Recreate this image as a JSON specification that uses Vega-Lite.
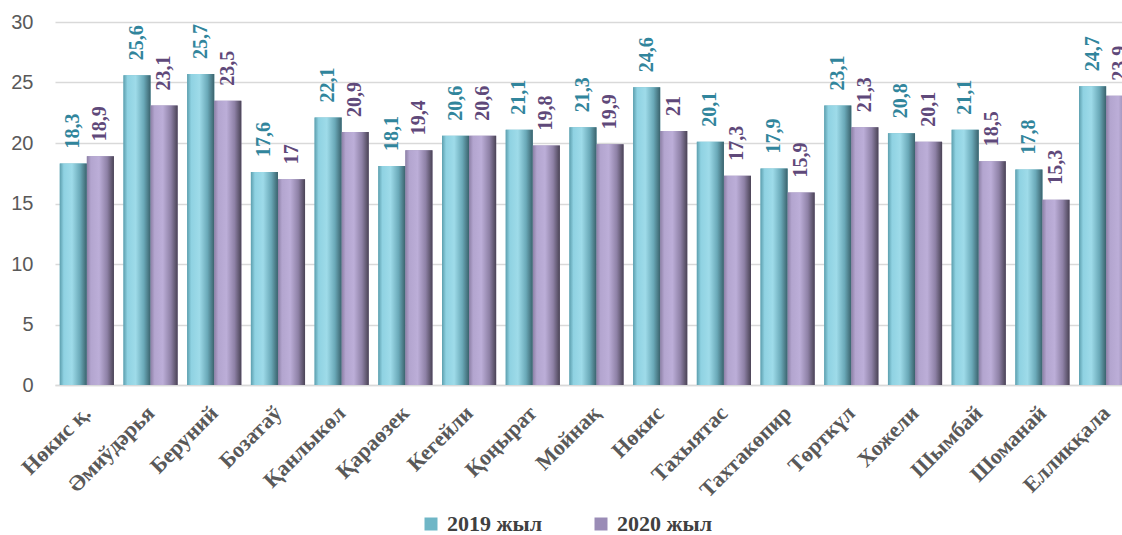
{
  "$schema": "https://vega.github.io/schema/vega-lite/v6.json",
  "width": 1067,
  "height": 363,
  "autosize": {"type": "none"},
  "padding": {"left": 55, "top": 22, "right": 0, "bottom": 150},
  "background": "white",
  "data": {
    "values": [
      {"region": "Нөкис қ.", "year": "2019 жыл", "value": 18.3, "label": "18,3"},
      {"region": "Нөкис қ.", "year": "2020 жыл", "value": 18.9, "label": "18,9"},
      {"region": "Әмиўдәрья", "year": "2019 жыл", "value": 25.6, "label": "25,6"},
      {"region": "Әмиўдәрья", "year": "2020 жыл", "value": 23.1, "label": "23,1"},
      {"region": "Беруний", "year": "2019 жыл", "value": 25.7, "label": "25,7"},
      {"region": "Беруний", "year": "2020 жыл", "value": 23.5, "label": "23,5"},
      {"region": "Бозатаў", "year": "2019 жыл", "value": 17.6, "label": "17,6"},
      {"region": "Бозатаў", "year": "2020 жыл", "value": 17, "label": "17"},
      {"region": "Қанлыкөл", "year": "2019 жыл", "value": 22.1, "label": "22,1"},
      {"region": "Қанлыкөл", "year": "2020 жыл", "value": 20.9, "label": "20,9"},
      {"region": "Қараөзек", "year": "2019 жыл", "value": 18.1, "label": "18,1"},
      {"region": "Қараөзек", "year": "2020 жыл", "value": 19.4, "label": "19,4"},
      {"region": "Кегейли", "year": "2019 жыл", "value": 20.6, "label": "20,6"},
      {"region": "Кегейли", "year": "2020 жыл", "value": 20.6, "label": "20,6"},
      {"region": "Қоңырат", "year": "2019 жыл", "value": 21.1, "label": "21,1"},
      {"region": "Қоңырат", "year": "2020 жыл", "value": 19.8, "label": "19,8"},
      {"region": "Мойнақ", "year": "2019 жыл", "value": 21.3, "label": "21,3"},
      {"region": "Мойнақ", "year": "2020 жыл", "value": 19.9, "label": "19,9"},
      {"region": "Нөкис", "year": "2019 жыл", "value": 24.6, "label": "24,6"},
      {"region": "Нөкис", "year": "2020 жыл", "value": 21, "label": "21"},
      {"region": "Тахыятас", "year": "2019 жыл", "value": 20.1, "label": "20,1"},
      {"region": "Тахыятас", "year": "2020 жыл", "value": 17.3, "label": "17,3"},
      {"region": "Тахтакөпир", "year": "2019 жыл", "value": 17.9, "label": "17,9"},
      {"region": "Тахтакөпир", "year": "2020 жыл", "value": 15.9, "label": "15,9"},
      {"region": "Төрткүл", "year": "2019 жыл", "value": 23.1, "label": "23,1"},
      {"region": "Төрткүл", "year": "2020 жыл", "value": 21.3, "label": "21,3"},
      {"region": "Хожели", "year": "2019 жыл", "value": 20.8, "label": "20,8"},
      {"region": "Хожели", "year": "2020 жыл", "value": 20.1, "label": "20,1"},
      {"region": "Шымбай", "year": "2019 жыл", "value": 21.1, "label": "21,1"},
      {"region": "Шымбай", "year": "2020 жыл", "value": 18.5, "label": "18,5"},
      {"region": "Шоманай", "year": "2019 жыл", "value": 17.8, "label": "17,8"},
      {"region": "Шоманай", "year": "2020 жыл", "value": 15.3, "label": "15,3"},
      {"region": "Елликқала", "year": "2019 жыл", "value": 24.7, "label": "24,7"},
      {"region": "Елликқала", "year": "2020 жыл", "value": 23.9, "label": "23,9"}
    ]
  },
  "encoding": {
    "x": {
      "field": "region",
      "type": "nominal",
      "sort": null,
      "scale": {"range": [0, 1083], "paddingInner": 0.15, "paddingOuter": 0.075},
      "axis": {
        "title": null,
        "labelAngle": -45,
        "labelFont": "Liberation Serif",
        "labelFontWeight": "bold",
        "labelFontSize": 22,
        "labelColor": "#595959",
        "labelPadding": 17,
        "labelOffset": -7,
        "labelLimit": 300,
        "ticks": false,
        "tickSize": 0,
        "domainColor": "#d9d9d9",
        "domainWidth": 1.5,
        "grid": false
      }
    },
    "xOffset": {
      "field": "year",
      "type": "nominal",
      "scale": {"domain": ["2019 жыл", "2020 жыл"], "paddingInner": 0, "paddingOuter": 0}
    },
    "y": {
      "field": "value",
      "type": "quantitative",
      "scale": {"domain": [0, 30], "nice": false},
      "axis": {
        "title": null,
        "values": [0, 5, 10, 15, 20, 25, 30],
        "labelFont": "Liberation Sans",
        "labelFontSize": 20,
        "labelColor": "#595959",
        "labelPadding": 22,
        "ticks": false,
        "tickSize": 0,
        "domain": false,
        "grid": true,
        "gridColor": "#d9d9d9",
        "gridWidth": 1.5
      }
    }
  },
  "layer": [
    {
      "mark": {"type": "bar", "clip": true},
      "encoding": {
        "color": {
          "field": "year",
          "type": "nominal",
          "scale": {"domain": ["2019 жыл", "2020 жыл"], "range": ["#6fb6c6", "#9a8cb6"]},
          "legend": {
            "title": null,
            "orient": "none",
            "direction": "horizontal",
            "legendX": 365,
            "legendY": 491,
            "symbolType": "square",
            "symbolSize": 169,
            "symbolStrokeWidth": 0,
            "labelFont": "Liberation Serif",
            "labelFontWeight": "bold",
            "labelFontSize": 22,
            "labelColor": "#404040",
            "labelOffset": 5,
            "columnPadding": 48,
            "labelLimit": 400
          }
        }
      }
    },
    {
      "transform": [{"filter": "datum.year === '2019 жыл'"}],
      "mark": {
        "type": "bar",
        "clip": true,
        "color": {
          "gradient": "linear",
          "x1": 0, "y1": 0, "x2": 1, "y2": 0,
          "stops": [
            {"offset": 0, "color": "#5d9fae"},
            {"offset": 0.15, "color": "#8fd2e2"},
            {"offset": 0.45, "color": "#9edbe9"},
            {"offset": 0.75, "color": "#6aa9b8"},
            {"offset": 1, "color": "#3a626c"}
          ]
        }
      }
    },
    {
      "transform": [{"filter": "datum.year === '2020 жыл'"}],
      "mark": {
        "type": "bar",
        "clip": true,
        "color": {
          "gradient": "linear",
          "x1": 0, "y1": 0, "x2": 1, "y2": 0,
          "stops": [
            {"offset": 0, "color": "#8d80a6"},
            {"offset": 0.15, "color": "#b3a5cf"},
            {"offset": 0.45, "color": "#bcaed8"},
            {"offset": 0.75, "color": "#8e81a6"},
            {"offset": 1, "color": "#4a4355"}
          ]
        }
      }
    },
    {
      "mark": {
        "type": "text",
        "clip": true,
        "angle": 270,
        "align": "left",
        "baseline": "middle",
        "dx": 15,
        "font": "Liberation Serif",
        "fontWeight": "bold",
        "fontSize": 20
      },
      "encoding": {
        "text": {"field": "label", "type": "nominal"},
        "color": {
          "condition": {"test": "datum.year === '2019 жыл'", "value": "#31859c"},
          "value": "#5f497a"
        }
      }
    }
  ],
  "config": {
    "view": {"stroke": null}
  }
}
